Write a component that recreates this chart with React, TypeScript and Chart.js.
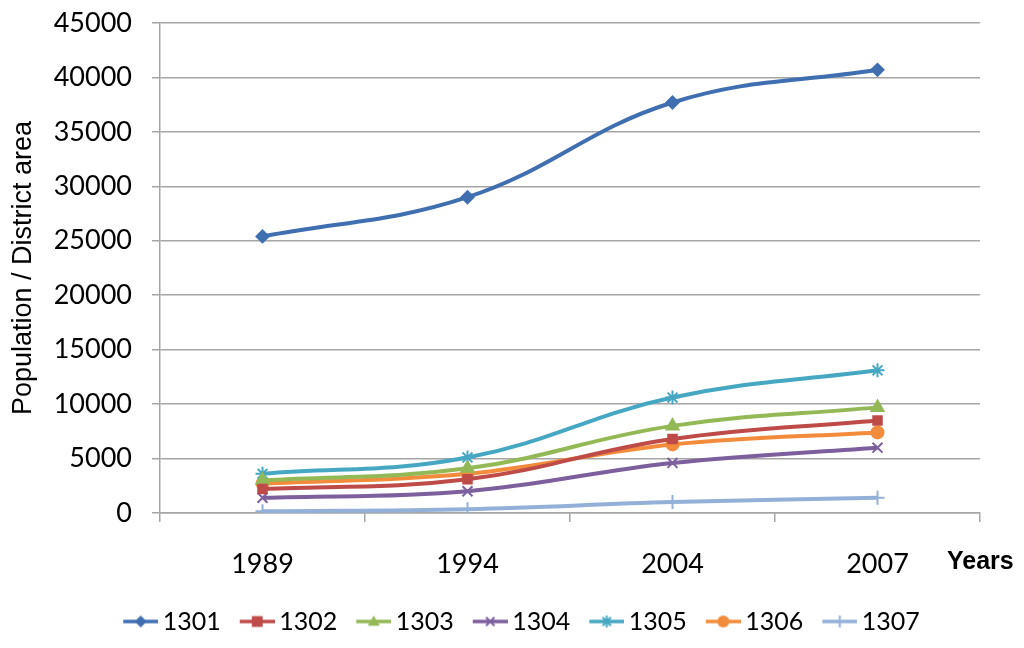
import React, { useEffect, useRef } from "react";
import { Chart, registerables } from "chart.js";

Chart.register(...registerables);

const categories = ["1989", "1994", "2004", "2007"];
const seriesNames = ["1301", "1302", "1303", "1304", "1305", "1306", "1307"];
const s1301 = [25400, 29000, 37700, 40700];
const s1302 = [2200, 3100, 6800, 8500];
const s1303 = [3000, 4100, 8000, 9700];
const s1304 = [1400, 2000, 4600, 6000];
const s1305 = [3600, 5100, 10600, 13100];
const s1306 = [2700, 3600, 6300, 7400];
const s1307 = [150, 350, 1000, 1400];
const yTicks = [0, 5000, 10000, 15000, 20000, 25000, 30000, 35000, 40000, 45000];

const seriesValues = [s1301, s1302, s1303, s1304, s1305, s1306, s1307];
const colors = ["#3F6FB0", "#BE4B48", "#93B957", "#7D5F9E", "#46A7C2", "#F28C3C", "#93B0D8"];
const markers = ["rectRot", "rect", "triangle", "crossRot", "star", "circle", "cross"];
const markerRadius = [6, 6, 7, 7, 7, 6, 7];

function drawMarker(ctx: CanvasRenderingContext2D, style: string, x: number, y: number, r: number, color: string) {
  ctx.save();
  ctx.fillStyle = color;
  ctx.strokeStyle = color;
  ctx.lineWidth = 2;
  ctx.beginPath();
  if (style === "rectRot") {
    ctx.moveTo(x, y - r); ctx.lineTo(x + r, y); ctx.lineTo(x, y + r); ctx.lineTo(x - r, y); ctx.closePath(); ctx.fill();
  } else if (style === "rect") {
    const s = r * 0.9;
    ctx.rect(x - s, y - s, 2 * s, 2 * s); ctx.fill();
  } else if (style === "triangle") {
    ctx.moveTo(x, y - r); ctx.lineTo(x + r, y + r * 0.7); ctx.lineTo(x - r, y + r * 0.7); ctx.closePath(); ctx.fill();
  } else if (style === "circle") {
    ctx.arc(x, y, r, 0, Math.PI * 2); ctx.fill();
  } else if (style === "crossRot") {
    const s = r * 0.7;
    ctx.moveTo(x - s, y - s); ctx.lineTo(x + s, y + s); ctx.moveTo(x + s, y - s); ctx.lineTo(x - s, y + s); ctx.stroke();
  } else if (style === "star") {
    const s = r * 0.7;
    ctx.moveTo(x - s, y - s); ctx.lineTo(x + s, y + s); ctx.moveTo(x + s, y - s); ctx.lineTo(x - s, y + s);
    ctx.moveTo(x, y - r); ctx.lineTo(x, y + r); ctx.stroke();
  } else if (style === "cross") {
    ctx.moveTo(x, y - r); ctx.lineTo(x, y + r); ctx.moveTo(x - r, y); ctx.lineTo(x + r, y); ctx.stroke();
  }
  ctx.restore();
}

function legendImage(i: number): HTMLCanvasElement {
  const c = document.createElement("canvas");
  c.width = 52;
  c.height = 18;
  const ctx = c.getContext("2d")!;
  ctx.strokeStyle = colors[i];
  ctx.lineWidth = 3.5;
  ctx.beginPath();
  ctx.moveTo(17, 9);
  ctx.lineTo(52, 9);
  ctx.stroke();
  drawMarker(ctx, markers[i], 34.5, 9, 6, colors[i]);
  return c;
}

const yearsPlugin = {
  id: "yearsLabel",
  afterDraw(chart: any) {
    const { ctx, chartArea } = chart;
    ctx.save();
    ctx.font = "bold 25px 'Liberation Sans', Arial, sans-serif";
    ctx.fillStyle = "#000";
    ctx.textAlign = "left";
    ctx.textBaseline = "middle";
    ctx.fillText("Years", chartArea.right - 33, chartArea.bottom + 49);
    ctx.restore();
  },
};

export default function App() {
  const ref = useRef<HTMLCanvasElement | null>(null);
  useEffect(() => {
    if (!ref.current) return;
    const gridColor = "#A6A6A6";
    const chart = new Chart(ref.current, {
      type: "line",
      data: {
        labels: categories,
        datasets: seriesNames.map((name, i) => ({
          label: name,
          data: seriesValues[i],
          borderColor: colors[i],
          backgroundColor: colors[i],
          borderWidth: 4,
          tension: 0.4,
          pointStyle: markers[i] as any,
          pointRadius: markerRadius[i],
          pointHoverRadius: markerRadius[i],
          pointBorderWidth: 2,
          pointBorderColor: colors[i],
          pointBackgroundColor: colors[i],
          fill: false,
        })),
      },
      options: {
        animation: false,
        responsive: false,
        maintainAspectRatio: false,
        layout: { padding: { left: 10, right: 0, top: 23, bottom: 4 } },
        plugins: {
          tooltip: { enabled: false },
          legend: {
            position: "bottom",
            labels: {
              usePointStyle: true,
              pointStyleWidth: 36,
              boxHeight: 18,
              padding: 10,
              color: "#000",
              font: { family: "Lato, 'Open Sans', sans-serif", size: 25 },
              generateLabels: (chart: any) =>
                chart.data.datasets.map((ds: any, i: number) => ({
                  text: ds.label,
                  pointStyle: legendImage(i),
                  fillStyle: colors[i],
                  strokeStyle: colors[i],
                  lineWidth: 0,
                  hidden: false,
                  datasetIndex: i,
                  fontColor: "#000",
                })),
            },
          },
        },
        scales: {
          x: {
            type: "category",
            offset: true,
            grid: {
              display: true,
              drawOnChartArea: false,
              drawTicks: true,
              tickLength: 9,
              offset: true,
              color: gridColor,
              lineWidth: 1.5,
            },
            border: { display: true, color: gridColor, width: 1.5 },
            ticks: {
              color: "#000",
              padding: 26,
              font: { family: "Lato, 'Open Sans', sans-serif", size: 27 },
            },
            afterFit: (scale: any) => {
              scale.height = 86;
              scale.paddingLeft = 0;
              scale.paddingRight = 44;
            },
          },
          y: {
            min: 0,
            max: 45000,
            afterBuildTicks: (scale: any) => {
              scale.ticks = yTicks.map((v) => ({ value: v }));
            },
            grid: {
              color: gridColor,
              lineWidth: 1.5,
              drawTicks: true,
              tickLength: 8,
            },
            border: { display: true, color: gridColor, width: 1.5 },
            ticks: {
              color: "#000",
              padding: 20,
              font: { family: "Lato, 'Open Sans', sans-serif", size: 27 },
              callback: (v: any) => String(v),
            },
            title: {
              display: true,
              text: "Population / District area",
              color: "#000",
              font: { family: "'Liberation Sans', Arial, sans-serif", size: 27, lineHeight: 1 },
              padding: { top: 0, bottom: 0 },
            },
            afterFit: (scale: any) => {
              scale.width = 150;
              scale.paddingTop = 0;
              scale.paddingBottom = 0;
            },
          },
        },
      },
      plugins: [yearsPlugin],
    });
    return () => chart.destroy();
  }, []);
  return (
    <div style={{ position: "fixed", left: 0, top: 0, width: 1024, height: 648, background: "#fff" }}>
      <canvas ref={ref} width={1024} height={648} style={{ width: 1024, height: 648 }} />
    </div>
  );
}
